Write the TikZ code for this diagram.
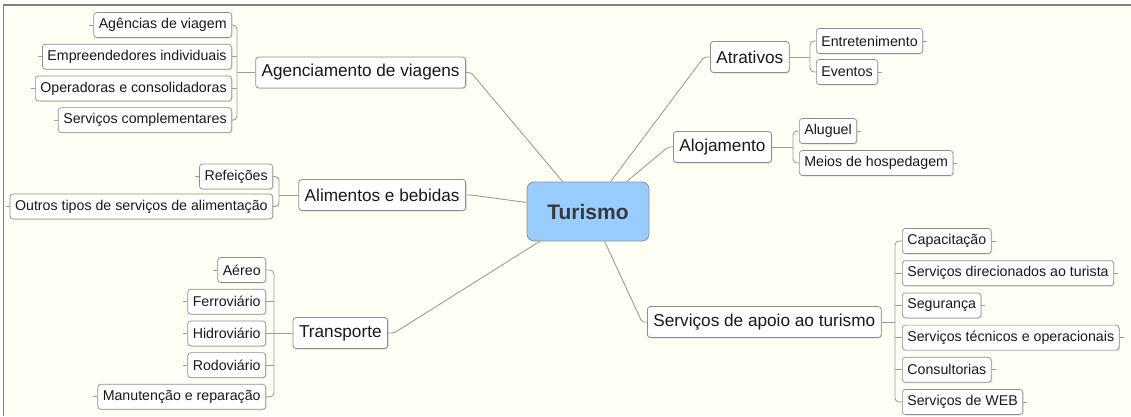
\documentclass[tikz,border=0pt]{standalone}
\usepackage{fontspec}
\setmainfont{Liberation Sans}
\usepackage{tikz}
\usetikzlibrary{positioning}
\usetikzlibrary{shadows}
\usepackage{xcolor}
\definecolor{paper}{HTML}{FFFFF6}
\definecolor{edgegray}{HTML}{9C9C9C}
\definecolor{boxgray}{HTML}{8E8E8E}
\definecolor{rootblue}{HTML}{99CCFF}
\tikzset{
  root/.style={draw=boxgray, fill=rootblue, rounded corners=7pt, line width=0.8pt,
    minimum width=122pt, minimum height=59pt, text=black!78,
    font=\fontsize{21}{25}\selectfont\bfseries},
  topic/.style={draw=boxgray, fill=white, rounded corners=3pt, line width=0.8pt,
    minimum height=31pt, inner xsep=6pt, text=black!90,
    font=\fontsize{17.2}{20}\selectfont,
    drop shadow={shadow xshift=1pt, shadow yshift=-1pt, opacity=0.25}},
  leaf/.style={draw=boxgray, fill=white, rounded corners=3pt, line width=0.7pt,
    minimum height=25pt, inner xsep=5pt, text=black!90,
    font=\fontsize{14.2}{17}\selectfont,
    drop shadow={shadow xshift=1pt, shadow yshift=-1pt, opacity=0.2}},
  link/.style={draw=edgegray, line width=0.9pt},
}

\begin{document}
\begin{tikzpicture}[x=1pt,y=-1pt]
\useasboundingbox (0,0) rectangle (1131,416);
\fill[white] (0,0) rectangle (1131,416);
\fill[paper] (3.5,5) rectangle (1131,416);
\draw[gray, line width=1.3pt] (3.5,416) -- (3.5,5) -- (1131,5);

\node[root] at (588,211.5) (root) {Turismo};

% left side
\node[topic,anchor=east] at (466,72.5) (ag) {Agenciamento de viagens};
\node[leaf,anchor=east] at (232,25) (a1) {Agências de viagem};
\node[leaf,anchor=east] at ([yshift=-31.7pt]a1.east) (a2) {Empreendedores individuais};
\node[leaf,anchor=east] at ([yshift=-31.7pt]a2.east) (a3) {Operadoras e consolidadoras};
\node[leaf,anchor=east] at ([yshift=-31.7pt]a3.east) (a4) {Serviços complementares};

\node[topic,anchor=east] at (466,195) (ab) {Alimentos e bebidas};
\node[leaf,anchor=east] at (273,176.5) (b1) {Refeições};
\node[leaf,anchor=east] at ([yshift=-30pt]b1.east) (b2) {Outros tipos de serviços de alimentação};

\node[topic,anchor=east] at (388,333) (tr) {Transporte};
\node[leaf,anchor=east] at (266,270) (t1) {Aéreo};
\node[leaf,anchor=east] at ([yshift=-31.7pt]t1.east) (t2) {Ferroviário};
\node[leaf,anchor=east] at ([yshift=-31.7pt]t2.east) (t3) {Hidroviário};
\node[leaf,anchor=east] at ([yshift=-31.7pt]t3.east) (t4) {Rodoviário};
\node[leaf,anchor=east] at ([yshift=-31.7pt]t4.east) (t5) {Manutenção e reparação};

% right side
\node[topic,anchor=west] at (710,57) (at) {Atrativos};
\node[leaf,anchor=west] at (816,41) (e1) {Entretenimento};
\node[leaf,anchor=west] at ([yshift=-31pt]e1.west) (e2) {Eventos};

\node[topic,anchor=west] at (673,147) (aj) {Alojamento};
\node[leaf,anchor=west] at (799,131) (h1) {Aluguel};
\node[leaf,anchor=west] at ([yshift=-32pt]h1.west) (h2) {Meios de hospedagem};

\node[topic,anchor=west] at (647,322) (sa) {Serviços de apoio ao turismo};
\node[leaf,anchor=west] at (902,241) (s1) {Capacitação};
\node[leaf,anchor=west] at ([yshift=-32.2pt]s1.west) (s2) {Serviços direcionados ao turista};
\node[leaf,anchor=west] at ([yshift=-32.2pt]s2.west) (s3) {Segurança};
\node[leaf,anchor=west] at ([yshift=-32.2pt]s3.west) (s4) {Serviços técnicos e operacionais};
\node[leaf,anchor=west] at ([yshift=-32.2pt]s4.west) (s5) {Consultorias};
\node[leaf,anchor=west] at ([yshift=-32.2pt]s5.west) (s6) {Serviços de WEB};

% root to topics
\draw[link,rounded corners=2pt] ([xshift=36pt]root.north west) -- ([xshift=5pt]ag.east) -- (ag.east);
\draw[link,rounded corners=2pt] ([yshift=9pt]root.west) -- ([xshift=5pt]ab.east) -- (ab.east);
\draw[link,rounded corners=2pt] ([xshift=13pt]root.south west) -- ([xshift=6pt]tr.east) -- (tr.east);
\draw[link,rounded corners=2pt] ([xshift=84pt]root.north west) -- ([xshift=-6pt]at.west) -- (at.west);
\draw[link,rounded corners=2pt] ([xshift=100pt]root.north west) -- ([xshift=-5pt]aj.west) -- (aj.west);
\draw[link,rounded corners=2pt] ([xshift=78pt]root.south west) -- ([xshift=-5pt]sa.west) -- (sa.west);

% brackets
\coordinate (agB) at (237,0);
\draw[link] (ag.west) -- (agB |- ag.west);
\draw[link,rounded corners=4pt] (a1.east) -- (agB |- a1.east) -- (agB |- a4.east) -- (a4.east);
\draw[link] (a2.east) -- (agB |- a2.east) (a3.east) -- (agB |- a3.east);
\draw[link] (a1.west) -- ++(-4,0) (a2.west) -- ++(-4,0) (a3.west) -- ++(-4,0) (a4.west) -- ++(-4,0);

\coordinate (abB) at (279,0);
\draw[link] (ab.west) -- (abB |- ab.west);
\draw[link,rounded corners=4pt] (b1.east) -- (abB |- b1.east) -- (abB |- b2.east) -- (b2.east);
\draw[link] (b1.west) -- ++(-4,0) (b2.west) -- ++(-4,0);

\coordinate (trB) at (274,0);
\draw[link] (tr.west) -- (trB |- tr.west);
\draw[link,rounded corners=4pt] (t1.east) -- (trB |- t1.east) -- (trB |- t5.east) -- (t5.east);
\draw[link] (t2.east) -- (trB |- t2.east) (t3.east) -- (trB |- t3.east) (t4.east) -- (trB |- t4.east);
\draw[link] (t1.west) -- ++(-4,0) (t2.west) -- ++(-4,0) (t3.west) -- ++(-4,0) (t4.west) -- ++(-4,0) (t5.west) -- ++(-4,0);

\coordinate (atB) at (810,0);
\draw[link] (at.east) -- (atB |- at.east);
\draw[link,rounded corners=4pt] (e1.west) -- (atB |- e1.west) -- (atB |- e2.west) -- (e2.west);
\draw[link] (e1.east) -- ++(4,0) (e2.east) -- ++(4,0);

\coordinate (ajB) at (793,0);
\draw[link] (aj.east) -- (ajB |- aj.east);
\draw[link,rounded corners=4pt] (h1.west) -- (ajB |- h1.west) -- (ajB |- h2.west) -- (h2.west);
\draw[link] (h1.east) -- ++(4,0) (h2.east) -- ++(4,0);

\coordinate (saB) at (895,0);
\draw[link] (sa.east) -- (saB |- sa.east);
\draw[link,rounded corners=4pt] (s1.west) -- (saB |- s1.west) -- (saB |- s6.west) -- (s6.west);
\draw[link] (s2.west) -- (saB |- s2.west) (s3.west) -- (saB |- s3.west) (s4.west) -- (saB |- s4.west) (s5.west) -- (saB |- s5.west);
\draw[link] (s1.east) -- ++(4,0) (s2.east) -- ++(4,0) (s3.east) -- ++(4,0) (s4.east) -- ++(4,0) (s5.east) -- ++(4,0) (s6.east) -- ++(4,0);

\end{tikzpicture}
\end{document}
